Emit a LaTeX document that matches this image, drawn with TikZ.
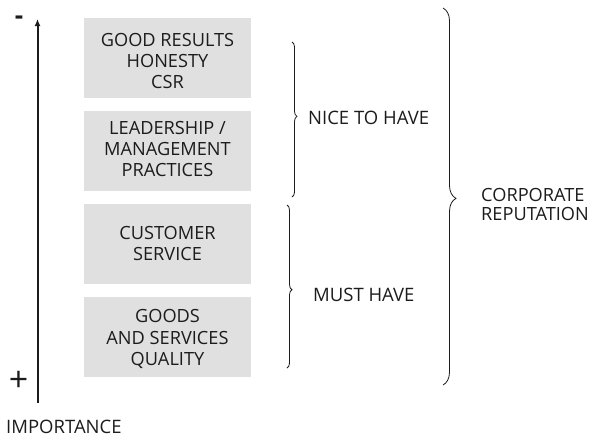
\documentclass[tikz,border=0pt]{standalone}
\usepackage{fontspec}
\setmainfont{Open Sans}
\usetikzlibrary{decorations.pathreplacing,arrows.meta}
\definecolor{boxgray}{HTML}{E0E0E0}
\definecolor{ink}{HTML}{1C1C1C}
\tikzset{
  itembox/.style={fill=boxgray, draw=none, minimum width=167pt, minimum height=80pt, inner sep=0pt},
  boxtext/.style={inner sep=0pt, align=center, text=ink, font=\fontsize{18.2}{21.2}\selectfont},
  lbl/.style={text=ink, font=\fontsize{18.5}{19}\selectfont, inner sep=0pt},
  brc/.style={draw=ink, line width=0.8pt, decorate},
}
\begin{document}
\begin{tikzpicture}[x=1pt,y=-1pt]
\useasboundingbox (0,0) rectangle (591,437);
% axis
\coordinate (axb) at (37.5,403);
\coordinate (axt) at (37.5,19);
\draw[ink, line width=2pt, -{Latex[length=7pt,width=6pt]}] (axb) -- (axt);
\node[lbl, font=\fontsize{26}{28}\selectfont\bfseries] (minus) at (19,20) {-};
\node[lbl, font=\fontsize{34}{36}\selectfont] (plus) at (18.5,381) {+};
\node[lbl, anchor=west] (imp) at (6,426.5) {IMPORTANCE};
% boxes
\node[itembox] (b1) at (167.5,58) {};
\node[itembox] (b2) at (167.5,151) {};
\node[itembox] (b3) at (167.5,243.5) {};
\node[itembox] (b4) at (167.5,337) {};
\node[boxtext] (t1) at ([yshift=-3pt]b1.center) {GOOD RESULTS\\HONESTY\\CSR};
\node[boxtext] (t2) at ([yshift=2pt]b2.center) {LEADERSHIP /\\MANAGEMENT\\PRACTICES};
\node[boxtext] (t3) at (b3.center) {CUSTOMER\\SERVICE};
\node[boxtext] (t4) at ([yshift=-2pt]b4.center) {GOODS\\AND SERVICES\\QUALITY};
% braces
\coordinate (n1) at (292,42);
\coordinate (n2) at (292,197);
\draw[brc, decoration={brace, amplitude=5pt, aspect=0.48}] (n1) -- (n2);
\node[lbl, anchor=west] (nice) at (308,117.5) {NICE TO HAVE};
\coordinate (m1) at (287,205);
\coordinate (m2) at (287,368);
\draw[brc, decoration={brace, amplitude=5pt, aspect=0.52}] (m1) -- (m2);
\node[lbl, anchor=west] (must) at (313,295) {MUST HAVE};
\coordinate (c1) at (443,8);
\coordinate (c2) at (443,385);
\draw[brc, decoration={brace, amplitude=13pt, aspect=0.505}] (c1) -- (c2);
\node[lbl, anchor=west, align=left, font=\fontsize{18.2}{19.5}\selectfont] (corp) at (481,204.5) {CORPORATE\\REPUTATION};
\end{tikzpicture}
\end{document}
